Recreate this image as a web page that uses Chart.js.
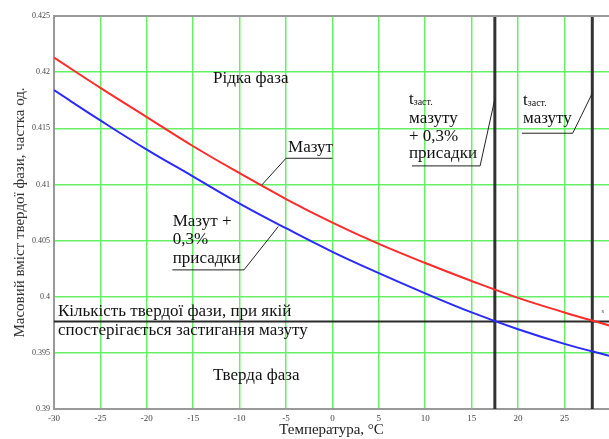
<!DOCTYPE html>
<html>
<head>
<meta charset="utf-8">
<script src="https://cdn.jsdelivr.net/npm/chart.js@4.4.1/dist/chart.umd.min.js"></script>
<style>
  html, body { margin: 0; padding: 0; background: #fff; }
</style>
</head>
<body>
<canvas id="chart" width="609" height="439"></canvas>
<script>
// data
const temps = [-30, -25, -20, -15, -10, -5, 0, 5, 10, 15, 20, 25, 30];
const mazut = [0.4213, 0.4186, 0.4160, 0.4134, 0.4110, 0.4087, 0.4066, 0.4047, 0.4030, 0.4014, 0.3999, 0.3986, 0.3974];
const mazutAdditive = [0.4184, 0.4157, 0.4131, 0.4107, 0.4083, 0.4061, 0.4040, 0.4021, 0.4003, 0.3986, 0.3971, 0.3958, 0.3947];
const tSolid = [17.5, 28];
const solidFraction = 0.3978;
const xTicks = [-30, -25, -20, -15, -10, -5, 0, 5, 10, 15, 20, 25];
const yTicks = [0.39, 0.395, 0.4, 0.405, 0.41, 0.415, 0.42, 0.425];

const serif = '"Liberation Serif", "Times New Roman", serif';
const yMin = yTicks[0];
const yMax = yTicks[yTicks.length - 1];

const toPoints = (ys) => temps.map((t, i) => ({ x: t, y: ys[i] }));

// labels, underlines and leader lines
const labelsPlugin = {
  id: "labels",
  afterDatasetsDraw(chart) {
    const ctx = chart.ctx;
    const X = (t) => chart.scales.x.getPixelForValue(t);
    const Y = (v) => chart.scales.y.getPixelForValue(v);
    const area = chart.chartArea;

    ctx.save();
    // top frame line
    ctx.strokeStyle = "#999";
    ctx.lineWidth = 2;
    ctx.beginPath();
    ctx.moveTo(area.left, area.top);
    ctx.lineTo(area.right, area.top);
    ctx.stroke();

    ctx.fillStyle = "#111";
    ctx.textBaseline = "alphabetic";
    ctx.textAlign = "left";

    function text(str, t, v, size) {
      ctx.font = size + "px " + serif;
      ctx.fillText(str, X(t), Y(v));
    }
    function line(t1, v1, t2, v2) {
      ctx.beginPath();
      ctx.moveTo(X(t1), Y(v1));
      ctx.lineTo(X(t2), Y(v2));
      ctx.stroke();
    }
    function tSub(t, v) {
      ctx.font = "17px " + serif;
      ctx.fillText("t", X(t), Y(v));
      const w = ctx.measureText("t").width;
      ctx.font = "10px " + serif;
      ctx.fillText("заст.", X(t) + w, Y(v) + 1);
    }

    text("Рідка фаза", -12.87, 0.4190, 17);
    text("Тверда фаза", -12.87, 0.3926, 17);
    text("Кількість твердої фази, при якій", -29.57, 0.3983, 17);
    text("спостерігається застигання мазуту", -29.57, 0.3966, 17);

    ctx.strokeStyle = "#222";
    ctx.lineWidth = 1;

    text("Мазут", -4.78, 0.4129, 17);
    line(-5.0, 0.41233, 0.0, 0.41233);
    line(-5.0, 0.41233, -7.6, 0.40996);

    text("Мазут +", -17.21, 0.40631, 17);
    text("0,3%", -17.21, 0.40468, 17);
    text("присадки", -17.21, 0.40304, 17);
    line(-17.25, 0.40239, -9.53, 0.40239);
    line(-9.53, 0.40239, -5.83, 0.40625);

    tSub(8.25, 0.41717);
    text("мазуту", 8.25, 0.41548, 17);
    text("+ 0,3%", 8.25, 0.41388, 17);
    text("присадки", 8.25, 0.41236, 17);
    line(8.58, 0.41165, 15.91, 0.41165);
    line(15.91, 0.41165, tSolid[0], 0.41761);

    tSub(20.54, 0.41708);
    text("мазуту", 20.54, 0.41548, 17);
    line(20.43, 0.41456, 25.89, 0.41456);
    line(25.89, 0.41456, tSolid[1], 0.41812);

    ctx.fillStyle = "#555";
    text("s", 29.0, 0.39858, 7);
    ctx.restore();
  }
};

const datasets = [
  {
    label: "Мазут",
    data: toPoints(mazut),
    borderColor: "#ff2a2a",
    borderWidth: 2,
    pointRadius: 0,
    tension: 0.4
  },
  {
    label: "Мазут + 0,3% присадки",
    data: toPoints(mazutAdditive),
    borderColor: "#2a2aff",
    borderWidth: 2,
    pointRadius: 0,
    tension: 0.4
  },
  {
    label: "solid",
    data: [{ x: temps[0], y: solidFraction }, { x: temps[temps.length - 1], y: solidFraction }],
    borderColor: "#2a2a2a",
    borderWidth: 2,
    pointRadius: 0
  }
];
tSolid.forEach(function (t) {
  datasets.push({
    label: "t" + t,
    data: [{ x: t, y: yMin }, { x: t, y: yMax }],
    borderColor: "#333",
    borderWidth: 3,
    pointRadius: 0
  });
});

const chart = new Chart(document.getElementById("chart"), {
  type: "line",
  data: { datasets: datasets },
  options: {
    responsive: false,
    animation: false,
    devicePixelRatio: 1,
    layout: { padding: { top: 16, right: 0, left: 0, bottom: 0 } },
    plugins: { legend: { display: false }, tooltip: { enabled: false } },
    scales: {
      x: {
        type: "linear",
        min: -30,
        max: 29.8,
        afterBuildTicks: (s) => { s.ticks = xTicks.map((v) => ({ value: v })); },
        afterFit: (s) => { s.height = 30; },
        grid: { color: "#66f066", lineWidth: 1.5, drawTicks: false },
        border: { color: "#999", width: 2 },
        ticks: {
          padding: 4,
          maxRotation: 0,
          autoSkip: false,
          color: "#444",
          font: { family: serif, size: 9 },
          callback: (v) => String(v)
        },
        title: {
          display: true,
          text: "Температура, °C",
          color: "#222",
          font: { family: serif, size: 15 },
          padding: { top: 0, bottom: 0 }
        }
      },
      y: {
        min: yMin,
        max: yMax,
        afterBuildTicks: (s) => { s.ticks = yTicks.map((v) => ({ value: v })); },
        afterFit: (s) => { s.width = 54; },
        grid: { color: "#66f066", lineWidth: 1.5, drawTicks: false },
        border: { color: "#999", width: 2 },
        ticks: {
          padding: 4,
          color: "#444",
          font: { family: serif, size: 8 },
          callback: (v) => String(+v.toFixed(3))
        },
        title: {
          display: true,
          text: "Масовий вміст твердої фази, частка од.",
          color: "#333",
          font: { family: serif, size: 15 },
          padding: { top: 11, bottom: 0 }
        }
      }
    }
  },
  plugins: [labelsPlugin]
});
</script>
</body>
</html>
